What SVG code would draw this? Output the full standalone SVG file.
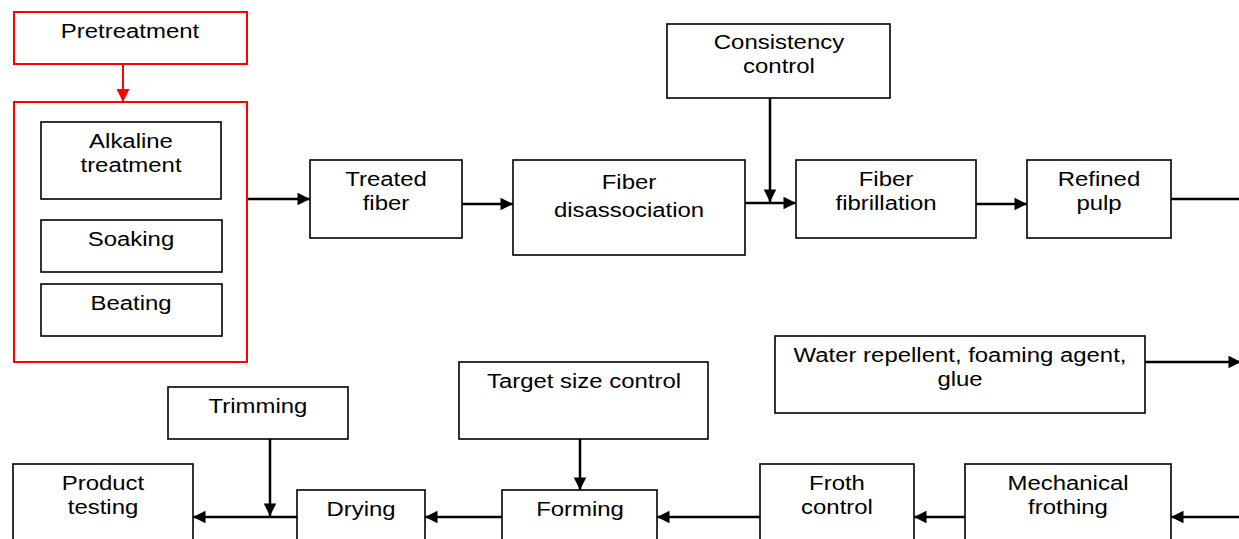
<svg xmlns="http://www.w3.org/2000/svg" width="1239" height="539" viewBox="0 0 1239 539">
<style>
.b{fill:#fff;stroke:#000;stroke-width:1.6}
.r{fill:#fff;stroke:#f00;stroke-width:2}
.t{font-family:"Liberation Sans",Arial,sans-serif;font-size:21px;fill:#000;text-anchor:middle}
.c{fill:none;stroke:#000;stroke-width:2.5}
</style>
<defs>
<marker id="a" viewBox="0 0 10 10" refX="10" refY="5" markerWidth="5.6" markerHeight="5" markerUnits="strokeWidth" orient="auto"><path d="M0,0 L10,5 L0,10 z" fill="#000"/></marker>
<marker id="ar" viewBox="0 0 10 10" refX="10" refY="5" markerWidth="7" markerHeight="6.5" markerUnits="strokeWidth" orient="auto"><path d="M0,0 L10,5 L0,10 z" fill="#f00"/></marker>
</defs>
<rect width="1239" height="539" fill="#fff"/>
<g id="connectors">
<line x1="123" y1="64" x2="123" y2="102" stroke="#f00" stroke-width="2" marker-end="url(#ar)"/>
<line class="c" x1="247" y1="199" x2="310" y2="199" marker-end="url(#a)"/>
<line class="c" x1="462" y1="204" x2="513" y2="204" marker-end="url(#a)"/>
<line class="c" x1="745" y1="203" x2="796" y2="203" marker-end="url(#a)"/>
<line class="c" x1="770" y1="98" x2="770" y2="202" marker-end="url(#a)"/>
<line class="c" x1="976" y1="204" x2="1027" y2="204" marker-end="url(#a)"/>
<line class="c" x1="1171" y1="199" x2="1239" y2="199"/>
<line class="c" x1="1145" y1="362" x2="1241" y2="362" marker-end="url(#a)"/>
<line class="c" x1="1239" y1="517" x2="1171" y2="517" marker-end="url(#a)"/>
<line class="c" x1="965" y1="517" x2="914" y2="517" marker-end="url(#a)"/>
<line class="c" x1="760" y1="517" x2="657" y2="517" marker-end="url(#a)"/>
<line class="c" x1="580" y1="439" x2="580" y2="490" marker-end="url(#a)"/>
<line class="c" x1="502" y1="517" x2="425" y2="517" marker-end="url(#a)"/>
<line class="c" x1="297" y1="517" x2="193" y2="517" marker-end="url(#a)"/>
<line class="c" x1="270" y1="439" x2="270" y2="516" marker-end="url(#a)"/>
</g>
<g id="pretreatment"><rect class="r" x="14" y="12" width="233" height="52"/><text class="t" transform="translate(130,37.5) scale(1.14,1)">Pretreatment</text></g>
<g id="pretreatment-group"><rect class="r" x="14" y="102" width="233" height="260"/></g>
<g id="alkaline"><rect class="b" x="41" y="122" width="180" height="77"/><text class="t" transform="translate(131,148) scale(1.14,1)">Alkaline</text><text class="t" transform="translate(131,172) scale(1.14,1)">treatment</text></g>
<g id="soaking"><rect class="b" x="41" y="220" width="181" height="52"/><text class="t" transform="translate(131,246) scale(1.14,1)">Soaking</text></g>
<g id="beating"><rect class="b" x="41" y="284" width="181" height="52"/><text class="t" transform="translate(131,310) scale(1.14,1)">Beating</text></g>
<g id="treated-fiber"><rect class="b" x="310" y="160" width="152" height="78"/><text class="t" transform="translate(386,186) scale(1.14,1)">Treated</text><text class="t" transform="translate(386,210) scale(1.14,1)">fiber</text></g>
<g id="fiber-disassociation"><rect class="b" x="513" y="160" width="232" height="95"/><text class="t" transform="translate(629,189) scale(1.14,1)">Fiber</text><text class="t" transform="translate(629,217) scale(1.14,1)">disassociation</text></g>
<g id="consistency-control"><rect class="b" x="667" y="24" width="223" height="74"/><text class="t" transform="translate(779,49) scale(1.14,1)">Consistency</text><text class="t" transform="translate(779,73) scale(1.14,1)">control</text></g>
<g id="fiber-fibrillation"><rect class="b" x="796" y="160" width="180" height="78"/><text class="t" transform="translate(886,186) scale(1.14,1)">Fiber</text><text class="t" transform="translate(886,210) scale(1.14,1)">fibrillation</text></g>
<g id="refined-pulp"><rect class="b" x="1027" y="160" width="144" height="78"/><text class="t" transform="translate(1099,186) scale(1.14,1)">Refined</text><text class="t" transform="translate(1099,210) scale(1.14,1)">pulp</text></g>
<g id="water-repellent"><rect class="b" x="775" y="336" width="370" height="77"/><text class="t" transform="translate(960,362) scale(1.14,1)">Water repellent, foaming agent,</text><text class="t" transform="translate(960,386) scale(1.14,1)">glue</text></g>
<g id="mechanical-frothing"><rect class="b" x="965" y="464" width="206" height="85"/><text class="t" transform="translate(1068,490) scale(1.14,1)">Mechanical</text><text class="t" transform="translate(1068,514) scale(1.14,1)">frothing</text></g>
<g id="froth-control"><rect class="b" x="760" y="464" width="154" height="85"/><text class="t" transform="translate(837,490) scale(1.14,1)">Froth</text><text class="t" transform="translate(837,514) scale(1.14,1)">control</text></g>
<g id="target-size-control"><rect class="b" x="459" y="362" width="249" height="77"/><text class="t" transform="translate(584,388) scale(1.14,1)">Target size control</text></g>
<g id="forming"><rect class="b" x="502" y="490" width="155" height="59"/><text class="t" transform="translate(580,516) scale(1.14,1)">Forming</text></g>
<g id="trimming"><rect class="b" x="168" y="387" width="180" height="52"/><text class="t" transform="translate(258,413) scale(1.14,1)">Trimming</text></g>
<g id="drying"><rect class="b" x="297" y="490" width="128" height="59"/><text class="t" transform="translate(361,516) scale(1.14,1)">Drying</text></g>
<g id="product-testing"><rect class="b" x="13" y="464" width="180" height="85"/><text class="t" transform="translate(103,490) scale(1.14,1)">Product</text><text class="t" transform="translate(103,514) scale(1.14,1)">testing</text></g>
</svg>
